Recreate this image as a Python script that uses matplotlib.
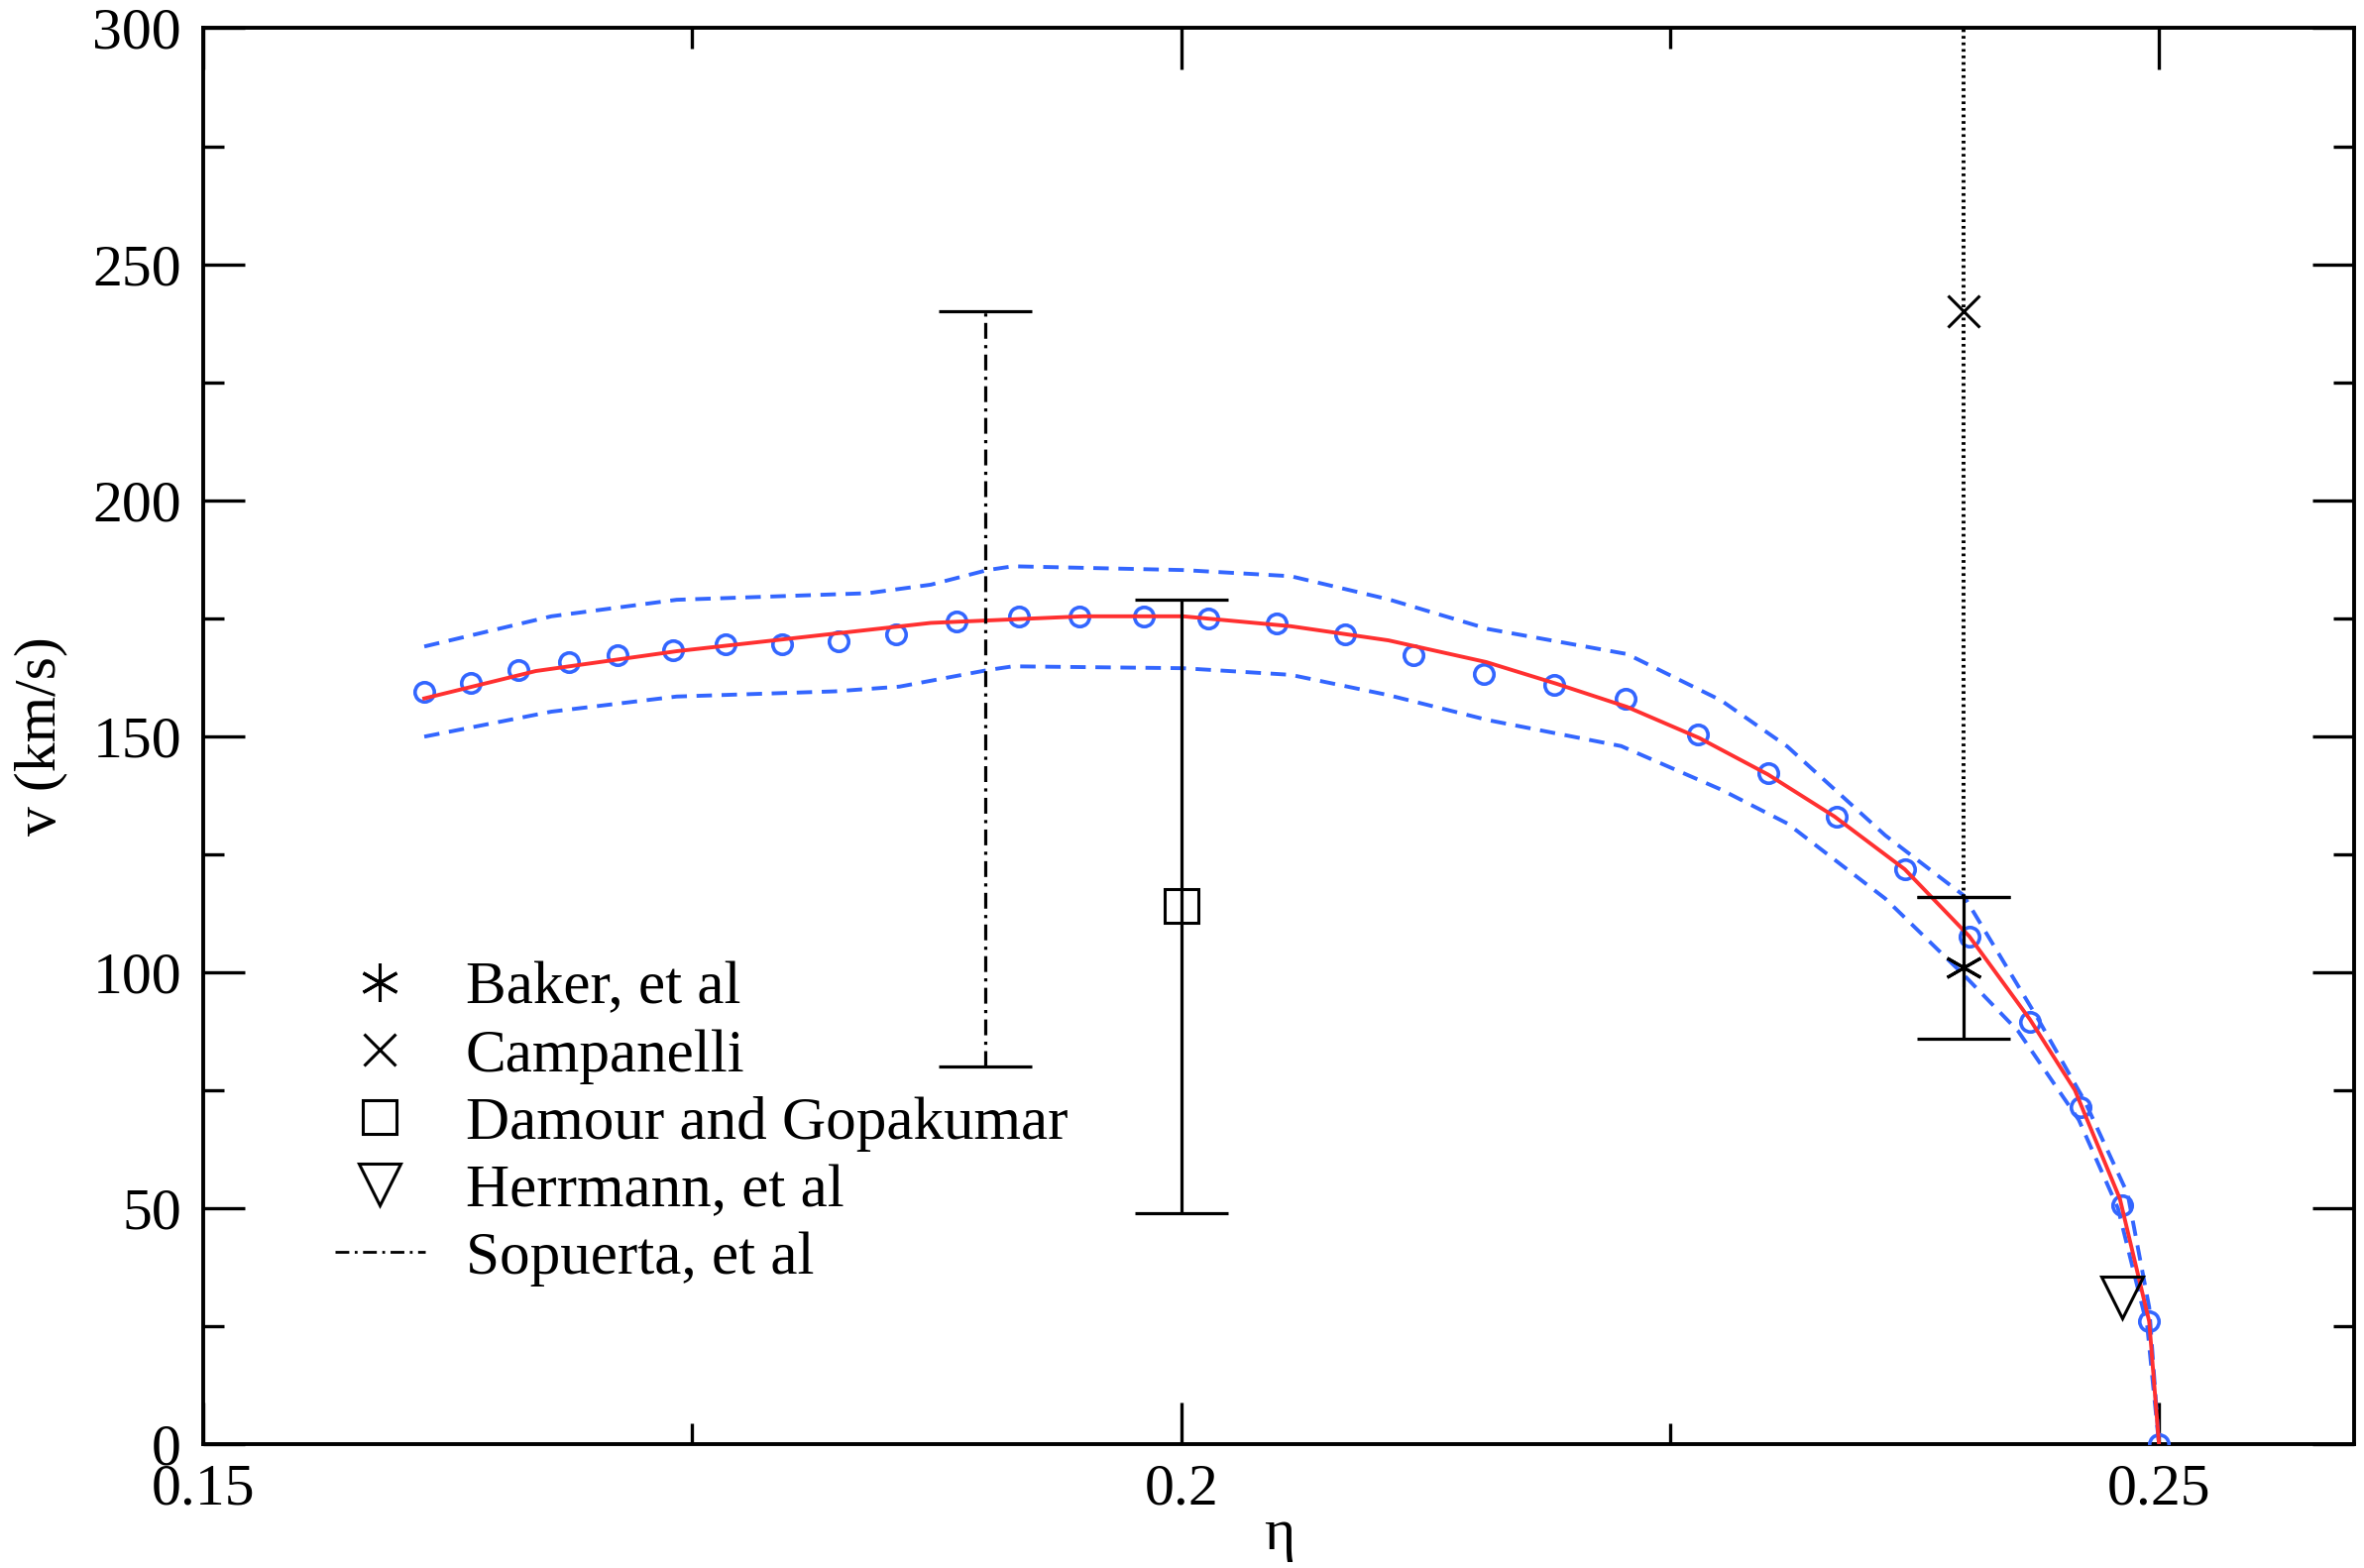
import numpy as np
import matplotlib
matplotlib.use("Agg")
import matplotlib.pyplot as plt
from matplotlib.lines import Line2D
from matplotlib.ticker import MultipleLocator, FormatStrFormatter

plt.rcParams['font.family'] = ['Liberation Serif', 'DejaVu Serif']

# recoil velocity vs symmetric mass ratio
eta_pts = [0.1613, 0.1637, 0.1661, 0.1687, 0.1712, 0.1740, 0.1767, 0.1796,
           0.1825, 0.1854, 0.1885, 0.1917, 0.1948, 0.1981, 0.2014, 0.2049,
           0.2084, 0.2119, 0.2155, 0.2191, 0.2227, 0.2264, 0.2300, 0.2335,
           0.2370, 0.2403, 0.2434, 0.2460, 0.2481, 0.2495, 0.2500]
v_pts = [159.5, 161.2, 164.0, 165.8, 167.2, 168.3, 169.4, 169.4,
         170.1, 171.5, 174.3, 175.4, 175.4, 175.4, 175.0, 173.8,
         171.6, 167.1, 163.1, 160.8, 158.0, 150.3, 142.2, 133.0,
         121.8, 107.5, 89.5, 71.4, 50.7, 26.0, 0.0]

# fitted curve
eta_fit = [0.1613, 0.1670, 0.1742, 0.1872, 0.1950, 0.2001, 0.2056, 0.2106,
           0.2156, 0.2192, 0.2228, 0.2265, 0.2300, 0.2334, 0.2370, 0.2403,
           0.2434, 0.2457, 0.2480, 0.2495, 0.2500]
v_fit = [158.0, 163.8, 168.0, 174.0, 175.4, 175.4, 173.3, 170.3,
         165.7, 161.1, 156.2, 149.6, 141.9, 133.0, 121.8, 107.6,
         90.0, 75.0, 52.0, 26.0, 0.0]

# error band
eta_up = [0.1613, 0.1678, 0.1742, 0.1840, 0.1872, 0.1901, 0.1914, 0.2001,
          0.2056, 0.2106, 0.2157, 0.2228, 0.2276, 0.2310, 0.2360, 0.2400,
          0.2438, 0.2462, 0.2484, 0.2495, 0.2500]
v_up = [169.0, 175.4, 178.9, 180.3, 182.1, 185.2, 186.0, 185.2,
        183.9, 179.0, 172.7, 167.4, 157.6, 147.8, 129.0, 116.3,
        90.2, 72.7, 53.0, 29.0, 0.0]
eta_lo = [0.1613, 0.1678, 0.1742, 0.1823, 0.1856, 0.1901, 0.1914, 0.2001,
          0.2056, 0.2106, 0.2157, 0.2225, 0.2276, 0.2310, 0.2360, 0.2400,
          0.2428, 0.2459, 0.2479, 0.2494, 0.2500]
v_lo = [149.9, 155.2, 158.4, 159.5, 160.5, 164.0, 164.8, 164.4,
        163.0, 158.7, 153.4, 147.9, 138.7, 131.5, 115.6, 99.5,
        87.5, 68.7, 50.0, 25.0, 0.0]

# other results
baker_eta, baker_v, baker_err = 0.24, 101.0, 15.0
camp_eta, camp_v, camp_err = 0.24, 240.0, 124.0
damour_eta, damour_v, damour_err = 0.20, 114.0, 65.0
herr_eta, herr_v = 0.2481, 31.0
sop_eta, sop_v, sop_err = 0.19, 160.0, 80.0

blue = '#3366ff'
red = '#ff3030'
dash_dot = (0, (5, 2, 1, 2))

fig = plt.figure(figsize=(23.85, 15.82), dpi=100)
ax = fig.add_axes([0.086, 0.079, 0.910, 0.903])

ax.plot(eta_up, v_up, color=blue, lw=2.8, ls=(0, (4, 2.5)), zorder=2)
ax.plot(eta_lo, v_lo, color=blue, lw=2.8, ls=(0, (4, 2.5)), zorder=2)
ax.plot(eta_pts, v_pts, ls='none', marker='o', ms=14, mfc='none',
        mec=blue, mew=2.6, zorder=3)
ax.plot(eta_fit, v_fit, color=red, lw=2.8, zorder=4)

cap = 34
lw_e = 2.3
eb = ax.errorbar([sop_eta], [sop_v], yerr=[sop_err], fmt='none', ecolor='k',
                 elinewidth=lw_e, capsize=cap, capthick=lw_e, zorder=5)
eb[2][0].set_linestyle(dash_dot)
eb = ax.errorbar([camp_eta], [camp_v], yerr=[camp_err], fmt='none', ecolor='k',
                 elinewidth=2.8, capsize=cap, capthick=lw_e, zorder=5)
eb[2][0].set_linestyle((0, (0.7, 1.0)))
ax.plot([camp_eta], [camp_v], ls='none', marker='x', ms=23, mec='k', mew=2.2, zorder=6)
ax.errorbar([baker_eta], [baker_v], yerr=[baker_err], fmt='none', ecolor='k',
            elinewidth=lw_e, capsize=cap, capthick=lw_e, zorder=5)
ax.plot([baker_eta], [baker_v], ls='none', marker=(6, 2, 0), ms=28, mec='k',
        mew=2.2, zorder=6)
ax.errorbar([damour_eta], [damour_v], yerr=[damour_err], fmt='none', ecolor='k',
            elinewidth=lw_e, capsize=cap, capthick=lw_e, zorder=5)
ax.plot([damour_eta], [damour_v], ls='none', marker='s', ms=25, mfc='none',
        mec='k', mew=2.2, zorder=6)
ax.plot([herr_eta], [herr_v], ls='none', marker='v', ms=30, mfc='none',
        mec='k', mew=2.2, zorder=6)

ax.set_xlim(0.15, 0.26)
ax.set_ylim(0, 300)
ax.xaxis.set_major_locator(MultipleLocator(0.05))
ax.xaxis.set_minor_locator(MultipleLocator(0.025))
ax.xaxis.set_major_formatter(FormatStrFormatter('%g'))
ax.yaxis.set_major_locator(MultipleLocator(50))
ax.yaxis.set_minor_locator(MultipleLocator(25))
ax.tick_params(which='both', direction='in', top=True, right=True,
               labelsize=43, width=2.4)
ax.tick_params(which='major', length=30)
ax.tick_params(which='minor', length=15)
ax.tick_params(axis='y', which='major', pad=16)
ax.tick_params(axis='x', which='major', pad=14)
for s in ax.spines.values():
    s.set_linewidth(2.8)

ax.set_xlabel('η', fontsize=43, labelpad=-6)
ax.set_ylabel('v (km/s)', fontsize=43, labelpad=18)

handles = [
    Line2D([], [], ls='none', marker=(6, 2, 0), ms=28, mec='k', mew=2.2),
    Line2D([], [], ls='none', marker='x', ms=23, mec='k', mew=2.2),
    Line2D([], [], ls='none', marker='s', ms=25, mfc='none', mec='k', mew=2.2),
    Line2D([], [], ls='none', marker='v', ms=30, mfc='none', mec='k', mew=2.2),
    Line2D([], [], color='k', lw=2.0, ls=dash_dot),
]
labels = ['Baker, et al', 'Campanelli', 'Damour and Gopakumar',
          'Herrmann, et al', 'Sopuerta, et al']
ax.legend(handles, labels, loc='upper left', bbox_to_anchor=(0.061, 0.341),
          frameon=False, fontsize=44, handlelength=1.5, handletextpad=0.66,
          labelspacing=0.2, borderpad=0, borderaxespad=0)

fig.savefig('out.png', dpi=100)
